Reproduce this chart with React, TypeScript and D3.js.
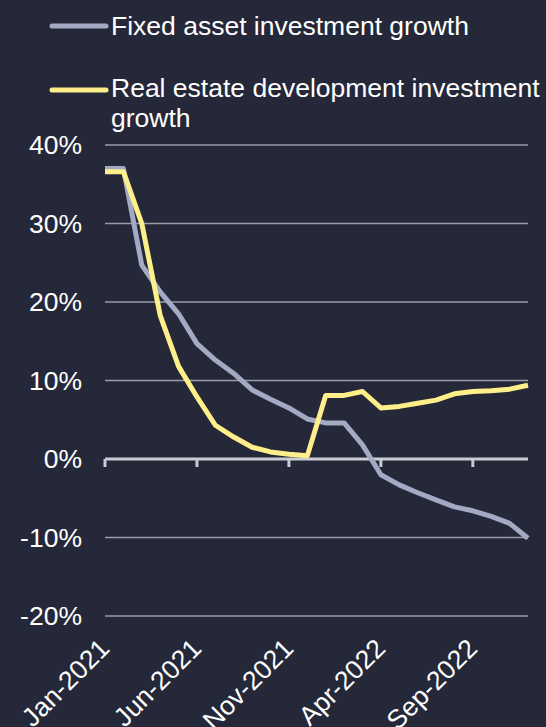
import React from "react";
import * as d3 from "d3";

const months: string[] = [
  "Jan-2021", "Feb-2021", "Mar-2021", "Apr-2021", "May-2021", "Jun-2021",
  "Jul-2021", "Aug-2021", "Sep-2021", "Oct-2021", "Nov-2021", "Dec-2021",
  "Jan-2022", "Feb-2022", "Mar-2022", "Apr-2022", "May-2022", "Jun-2022",
  "Jul-2022", "Aug-2022", "Sep-2022", "Oct-2022", "Nov-2022", "Dec-2022",
];

const fixedAsset: number[] = [
  37.0, 37.0, 24.7, 21.3, 18.5, 14.7, 12.6, 10.9, 8.8, 7.6, 6.5, 5.1,
  4.6, 4.6, 1.8, -2.0, -3.3, -4.3, -5.2, -6.1, -6.6, -7.3, -8.2, -10.1,
];

const realEstate: number[] = [
  36.6, 36.6, 30.0, 18.3, 11.8, 7.9, 4.3, 2.8, 1.5, 0.9, 0.6, 0.4,
  8.1, 8.1, 8.6, 6.5, 6.7, 7.1, 7.5, 8.3, 8.6, 8.7, 8.9, 9.4,
];

const yTicks: number[] = [40, 30, 20, 10, 0, -10, -20];
const xTickIdx: number[] = [0, 5, 10, 15, 20];

const seriesNames: string[] = [
  "Fixed asset investment growth",
  "Real estate development investment growth",
];

const W = 546;
const H = 727;
const BG = "#252839";
const GREY = "#a5aac4";
const YELLOW = "#ffef8a";
const FONT = "Liberation Sans, Arial, sans-serif";
const FS = 26.5;

export default function App() {
  const x = d3.scalePoint<number>()
    .domain(months.map((_, i) => i))
    .range([105, 528]);
  const y = d3.scaleLinear().domain([-20, 40]).range([616, 145]);

  const line = d3.line<number>()
    .x((_, i) => x(i) as number)
    .y((d) => y(d));

  return (
    <svg
      width={W}
      height={H}
      style={{ position: "absolute", left: 0, top: 0 }}
      fontFamily={FONT}
    >
      <rect x={0} y={0} width={W} height={H} fill={BG} />

      {/* legend */}
      <line x1={52} x2={106} y1={26} y2={26} stroke={GREY} strokeWidth={5} strokeLinecap="round" />
      <text x={111} y={35} fill="#ffffff" fontSize={FS}>{seriesNames[0]}</text>
      <line x1={52} x2={106} y1={90} y2={90} stroke={YELLOW} strokeWidth={5} strokeLinecap="round" />
      <text x={111} y={97} fill="#ffffff" fontSize={FS}>
        <tspan x={111}>Real estate development investment</tspan>
        <tspan x={111} dy={30}>growth</tspan>
      </text>

      {/* gridlines and y labels */}
      {yTicks.map((t) => (
        <g key={t}>
          {t !== 0 && (
            <line x1={105} x2={528} y1={y(t)} y2={y(t)} stroke="#9a9ca6" strokeWidth={1.3} />
          )}
          <text x={82} y={y(t) + 9} textAnchor="end" fill="#ffffff" fontSize={FS}>
            {t}%
          </text>
        </g>
      ))}

      {/* zero axis with ticks */}
      <line x1={105} x2={528} y1={y(0)} y2={y(0)} stroke="#c9cdd3" strokeWidth={3} />
      {xTickIdx.map((i) => (
        <line
          key={i}
          x1={x(i) as number}
          x2={x(i) as number}
          y1={y(0)}
          y2={y(0) + 8}
          stroke="#c9cdd3"
          strokeWidth={3}
        />
      ))}

      {/* x labels */}
      {xTickIdx.map((i) => (
        <text
          key={i}
          transform={`translate(${(x(i) as number) + 6},650) rotate(-45)`}
          textAnchor="end"
          fill="#ffffff"
          fontSize={FS}
        >
          {months[i]}
        </text>
      ))}

      {/* series */}
      <path d={line(fixedAsset) || ""} fill="none" stroke={GREY} strokeWidth={5} strokeLinejoin="round" />
      <path d={line(realEstate) || ""} fill="none" stroke={YELLOW} strokeWidth={5} strokeLinejoin="round" />
    </svg>
  );
}
